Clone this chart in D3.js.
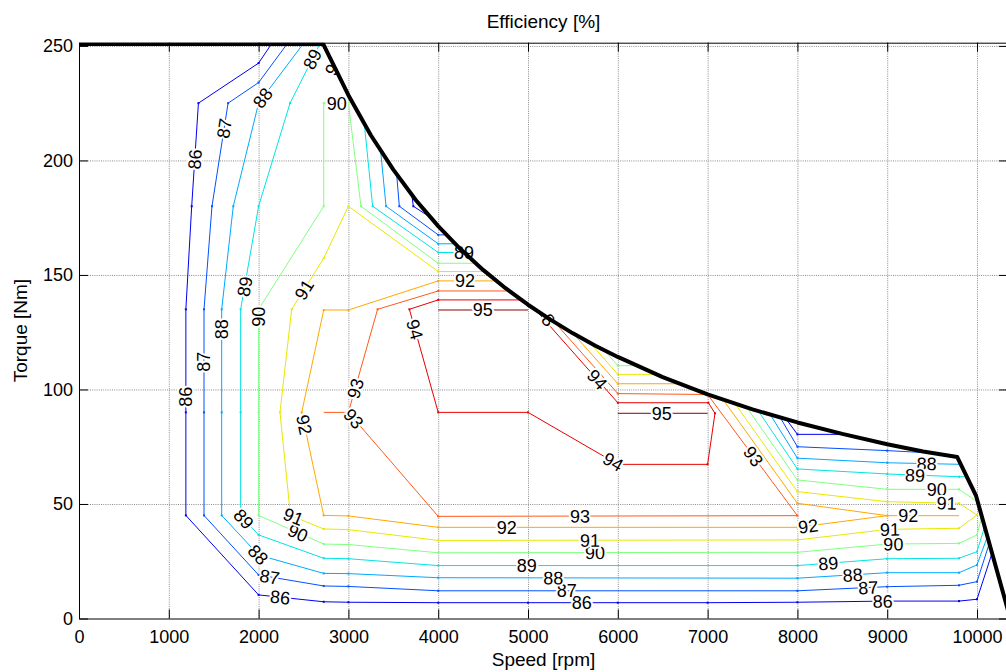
<!DOCTYPE html>
<html>
<head>
<meta charset="utf-8">
<script src="https://cdn.jsdelivr.net/npm/d3@7/dist/d3.min.js"></script>
<style>
body { margin: 0; background: #fff; }
text { font-family: Arial, "Liberation Sans", sans-serif; }
</style>
</head>
<body>
<script>
// efficiency contour levels [%]
var levels = [86, 87, 88, 89, 90, 91, 92, 93, 94, 95]
var levelColors = ["#0000f0", "#0050ff", "#00a8ff", "#00e4e4", "#80ff80",
                   "#e8e800", "#ffa800", "#ff5a1a", "#e80000", "#8c0000"]

var xTicks = [0, 1000, 2000, 3000, 4000, 5000, 6000, 7000, 8000, 9000, 10000]
var yTicks = [0, 50, 100, 150, 200, 250]

// max torque envelope, [speed rpm, torque Nm]
var maxTorque = [[0, 250.8], [2720, 250.8], [3000, 228.5], [3250, 211], [3500, 196],
    [3750, 182.7], [4000, 171.3], [4250, 161.2], [4500, 152.2], [4750, 144.2], [5000, 137],
    [5250, 130.5], [5500, 124.5], [5750, 119.1], [6000, 114.2], [6500, 105.4], [7000, 97.9],
    [7500, 91.3], [8000, 85.6], [8500, 80.6], [9000, 76.1], [9400, 72.9], [9780, 70.5],
    [9990, 53.5], [10345, 3.5]]

// contour lines, one list of polylines per level, [speed, torque]
var c86 = [
    [[2146, 251], [2000, 242.5], [1330, 225], [1255, 180], [1190, 135], [1190, 90], [1190, 45],
     [2000, 10.3], [2725, 7.3], [3000, 7.1], [4000, 6.9], [5000, 6.9], [6000, 6.9], [7000, 6.9],
     [8000, 7.1], [9000, 7.6], [9800, 7.6], [10000, 8.4], [10167, 28.5]],
    [[3704, 185.5], [3723, 180], [3910, 175.2]],
    [[7880, 86.8], [8000, 80.4], [8530, 80.4]]
]
var c87 = [
    [[2320, 251], [2000, 234], [1660, 225], [1481, 180], [1392, 135], [1392, 90], [1392, 45],
     [2000, 19.0], [2725, 14.2], [3000, 14.0], [4000, 12.1], [8000, 12.1], [9000, 13.9],
     [9800, 14.5], [10000, 16.1], [10137, 32.8]],
    [[3537, 194], [3567, 180], [4000, 167.5], [4090, 167.5]],
    [[7806, 87.9], [8000, 75.0], [9000, 73.3], [9480, 72.3]]
]
var c88 = [
    [[2498, 251], [2000, 225], [1718, 180], [1589, 135], [1589, 90], [1589, 45], [2000, 27.7],
     [2725, 19.7], [3000, 19.6], [4000, 17.8], [8000, 17.6], [9000, 20.0], [9800, 20.0],
     [10000, 23.4], [10115, 35.7]],
    [[3359, 204], [3419, 180], [4000, 163.6], [4187, 163.6]],
    [[7695, 89.2], [8000, 70.0], [9000, 68.0], [9822, 67.3]]
]
var c89 = [
    [[2684, 251], [2350, 225], [2000, 180], [1800, 135], [1800, 90], [1800, 45], [2000, 36.5],
     [2725, 26.3], [3000, 26.1], [4000, 23.1], [8000, 23.1], [9000, 26.1], [9800, 26.3],
     [10000, 29.2], [10085, 40.1]],
    [[3177, 216], [3270, 180], [4000, 159.8], [4287, 159.8]],
    [[7565, 90.6], [8000, 65.3], [9000, 63.1], [9800, 61.9], [9884, 61.9]]
]
var c90 = [
    [[4416, 155.1], [4000, 155.1], [3140, 180], [3000, 225], [2725, 225], [2725, 180], [2000, 135],
     [2000, 90], [2000, 45], [2725, 32.5], [3000, 32.3], [4000, 28.7], [8000, 28.9], [9000, 32.5],
     [9800, 32.8], [10000, 36.5], [10050, 44], [10001, 51], [9800, 56.4], [9000, 56.4],
     [8000, 60.5], [7435, 92.2]],
    [[5850, 117.1], [6000, 110.4], [6205, 110.4]]
]
var c91 = [
    [[4521, 151.5], [4000, 151.5], [3000, 180], [2725, 157.3], [2368, 135], [2238, 90], [2355, 45],
     [2725, 39.1], [3000, 38.8], [4000, 34.1], [8000, 34.3], [9000, 38.9], [9800, 39.4],
     [10000, 45.2], [9800, 50.3], [9000, 51.0], [8000, 55.4], [7305, 93.8]],
    [[5690, 120.4], [6000, 106.6], [6426, 106.6]]
]
var c92 = [
    [[4651, 147.4], [4000, 147.4], [3000, 134.7], [2725, 134.7], [2480, 90], [2725, 45],
     [3000, 44.8], [4000, 39.8], [8000, 39.8], [9000, 44.9]],
    [[7176, 95.4], [8000, 50.3], [9000, 44.9], [9800, 44.9]],
    [[5500, 124.6], [6000, 102.5], [6683, 102.5]]
]
var c93 = [
    [[4762, 143], [4000, 143], [3325, 135], [3000, 90], [4000, 44.6], [8000, 44.9], [7000, 97.8],
     [6000, 98.2], [5300, 129.2]],
    [[2725, 90], [3000, 90]]
]
var c94 = [
    [[4925, 139.1], [4000, 139.1], [3679, 135], [4000, 90], [5000, 90], [6000, 67.3], [7000, 67.3],
     [7082, 89.6], [7008, 94.2], [6000, 94.2], [5095, 134.3]]
]
var c95 = [
    [[4000, 134.7], [5000, 134.7]],
    [[6000, 89.6], [7000, 89.6]]
]

// inline contour labels, [level, speed, torque]
var contourLabels = [
    [86, 1292, 200.5], [86, 1188, 96.8], [86, 2238, 8.4], [86, 5598, 6.6], [86, 8950, 7.3],
    [87, 1615, 214], [87, 1392, 112.1], [87, 2119, 17.1], [87, 5431, 11.7], [87, 8790, 13.2],
    [88, 2071, 226.5], [88, 1589, 126.3], [88, 1979, 27.3], [88, 5282, 17.6], [88, 8616, 18.6], [88, 9440, 67.5],
    [89, 2609, 244], [89, 1849, 144.9], [89, 1823, 43], [89, 4986, 22.9], [89, 8344, 23.4], [89, 9310, 62.2], [89, 4290, 159.8],
    [90, 2870, 225], [90, 1997, 131.8], [90, 2424, 36.2], [90, 5746, 28.4], [90, 9068, 32.5], [90, 9551, 56.4],
    [91, 2480, 144.2], [91, 2386, 44.4], [91, 5690, 34.2], [91, 9031, 39.4], [91, 9663, 50.3],
    [92, 2498, 84.5], [92, 4298, 147.4], [92, 4763, 39.8], [92, 8121, 39.8], [92, 9235, 44.9],
    [93, 3073, 100.5], [93, 3040, 86.7], [93, 5579, 44.6], [93, 7502, 70.6],
    [94, 3723, 126], [94, 5765, 104.1], [94, 5950, 68.5],
    [95, 4496, 134.7], [95, 6489, 89.6]
]
// labels mostly hidden under the envelope line, [text, level, speed, torque]
var partialLabels = [["8", 93, 5226, 130.3], ["9", 89, 2814, 239.6]]

var contourSets = [c86, c87, c88, c89, c90, c91, c92, c93, c94, c95]

var svg = d3.select("body").append("svg")
    .attr("width", 1006)
    .attr("height", 672)

var plotLeft = 79, plotRight = 1008, plotTop = 42.7, plotBottom = 618.5

var x = d3.scaleLinear().domain([0, 10345]).range([plotLeft, plotRight])
var y = d3.scaleLinear().domain([0, 251.4]).range([plotBottom, plotTop])
var color = d3.scaleOrdinal().domain(levels).range(levelColors)

svg.append("defs").append("clipPath").attr("id", "plotClip")
    .append("rect")
    .attr("x", plotLeft).attr("y", plotTop)
    .attr("width", plotRight - plotLeft).attr("height", plotBottom - plotTop)

// dotted grid
var grid = svg.append("g").attr("stroke", "#8a8a8a").attr("stroke-dasharray", "1,1.2")
grid.selectAll(".gx").data(xTicks.slice(1)).enter().append("line")
    .attr("x1", d => x(d) + 0.5).attr("x2", d => x(d) + 0.5)
    .attr("y1", plotTop).attr("y2", plotBottom)
grid.selectAll(".gy").data(yTicks.slice(1)).enter().append("line")
    .attr("x1", plotLeft).attr("x2", plotRight)
    .attr("y1", d => y(d) + 0.5).attr("y2", d => y(d) + 0.5)

// contours
var line = d3.line().x(d => x(d[0])).y(d => y(d[1]))
var plot = svg.append("g").attr("clip-path", "url(#plotClip)")

levels.forEach(function(level, i) {
    var g = plot.append("g")
    g.selectAll("path").data(contourSets[i]).enter().append("path")
        .attr("d", line)
        .attr("fill", "none")
        .attr("stroke", color(level))
        .attr("stroke-width", 1)
    var verts = []
    contourSets[i].forEach(function(pl) { verts = verts.concat(pl.slice(1, -1)) })
    g.selectAll("rect").data(verts).enter().append("rect")
        .attr("x", d => x(d[0]) - 1).attr("y", d => y(d[1]) - 1)
        .attr("width", 2).attr("height", 2)
        .attr("fill", color(level))
})

// nearest point on a level's lines, with the text angle there
function nearest(level, px, py) {
    var best = null
    contourSets[levels.indexOf(level)].forEach(function(pl) {
        for (var k = 0; k < pl.length - 1; k++) {
            var ax = x(pl[k][0]), ay = y(pl[k][1]), bx = x(pl[k + 1][0]), by = y(pl[k + 1][1])
            var dx = bx - ax, dy = by - ay, len2 = dx * dx + dy * dy
            var u = len2 ? ((px - ax) * dx + (py - ay) * dy) / len2 : 0
            u = Math.max(0, Math.min(1, u))
            var qx = ax + u * dx, qy = ay + u * dy
            var dist = (px - qx) * (px - qx) + (py - qy) * (py - qy)
            if (!best || dist < best.dist) {
                best = { dist: dist, x: qx, y: qy, angle: Math.atan2(dy, dx) * 180 / Math.PI }
            }
        }
    })
    if (best.angle >= 90) best.angle -= 180
    if (best.angle < -90) best.angle += 180
    return best
}

var labelData = contourLabels.map(function(d) {
    var n = nearest(d[0], x(d[1]), y(d[2]))
    return { text: String(d[0]), x: n.x, y: n.y, angle: n.angle }
}).concat(partialLabels.map(function(d) {
    var n = nearest(d[1], x(d[2]), y(d[3]))
    return { text: d[0], x: x(d[2]), y: y(d[3]), angle: n.angle }
}))

plot.append("g").selectAll("text").data(labelData).enter().append("text")
    .attr("transform", d => "translate(" + d.x + "," + d.y + ") rotate(" + d.angle + ")")
    .attr("text-anchor", "middle")
    .attr("dy", "0.36em")
    .attr("font-size", 18)
    .attr("fill", "#000")
    .attr("stroke", "#fff")
    .attr("stroke-width", 4)
    .attr("stroke-linejoin", "round")
    .attr("paint-order", "stroke")
    .text(d => d.text)

// max torque envelope
plot.append("path")
    .datum(maxTorque)
    .attr("d", line)
    .attr("fill", "none")
    .attr("stroke", "#000")
    .attr("stroke-width", 4)
    .attr("stroke-linejoin", "round")

// axes, ticks pointing inward
var fontSize = 18
svg.append("g")
    .attr("transform", "translate(0," + plotBottom + ")")
    .call(d3.axisBottom(x).tickValues(xTicks).tickSizeInner(-9).tickSizeOuter(0).tickPadding(11.5).tickFormat(d3.format("d")))
    .attr("font-size", fontSize).attr("font-family", "Arial, 'Liberation Sans', sans-serif")
svg.append("g")
    .attr("transform", "translate(" + plotLeft + ",0)")
    .call(d3.axisLeft(y).tickValues(yTicks).tickSizeInner(-9).tickSizeOuter(0).tickPadding(6))
    .attr("font-size", fontSize).attr("font-family", "Arial, 'Liberation Sans', sans-serif")
svg.append("g")
    .attr("transform", "translate(0," + plotTop + ")")
    .call(d3.axisTop(x).tickValues(xTicks).tickSizeInner(-9).tickSizeOuter(0).tickFormat(""))
svg.append("g")
    .attr("transform", "translate(" + plotRight + ",0)")
    .call(d3.axisRight(y).tickValues(yTicks).tickSizeInner(-9).tickSizeOuter(0).tickFormat(""))

svg.append("text")
    .attr("x", (plotLeft + plotRight) / 2).attr("y", 28)
    .attr("text-anchor", "middle").attr("font-size", 19)
    .text("Efficiency [%]")
svg.append("text")
    .attr("x", (plotLeft + plotRight) / 2).attr("y", 666)
    .attr("text-anchor", "middle").attr("font-size", 19)
    .text("Speed [rpm]")
svg.append("text")
    .attr("transform", "translate(26.5," + (plotTop + plotBottom) / 2 + ") rotate(-90)")
    .attr("text-anchor", "middle").attr("font-size", 19)
    .text("Torque [Nm]")
</script>
</body>
</html>
